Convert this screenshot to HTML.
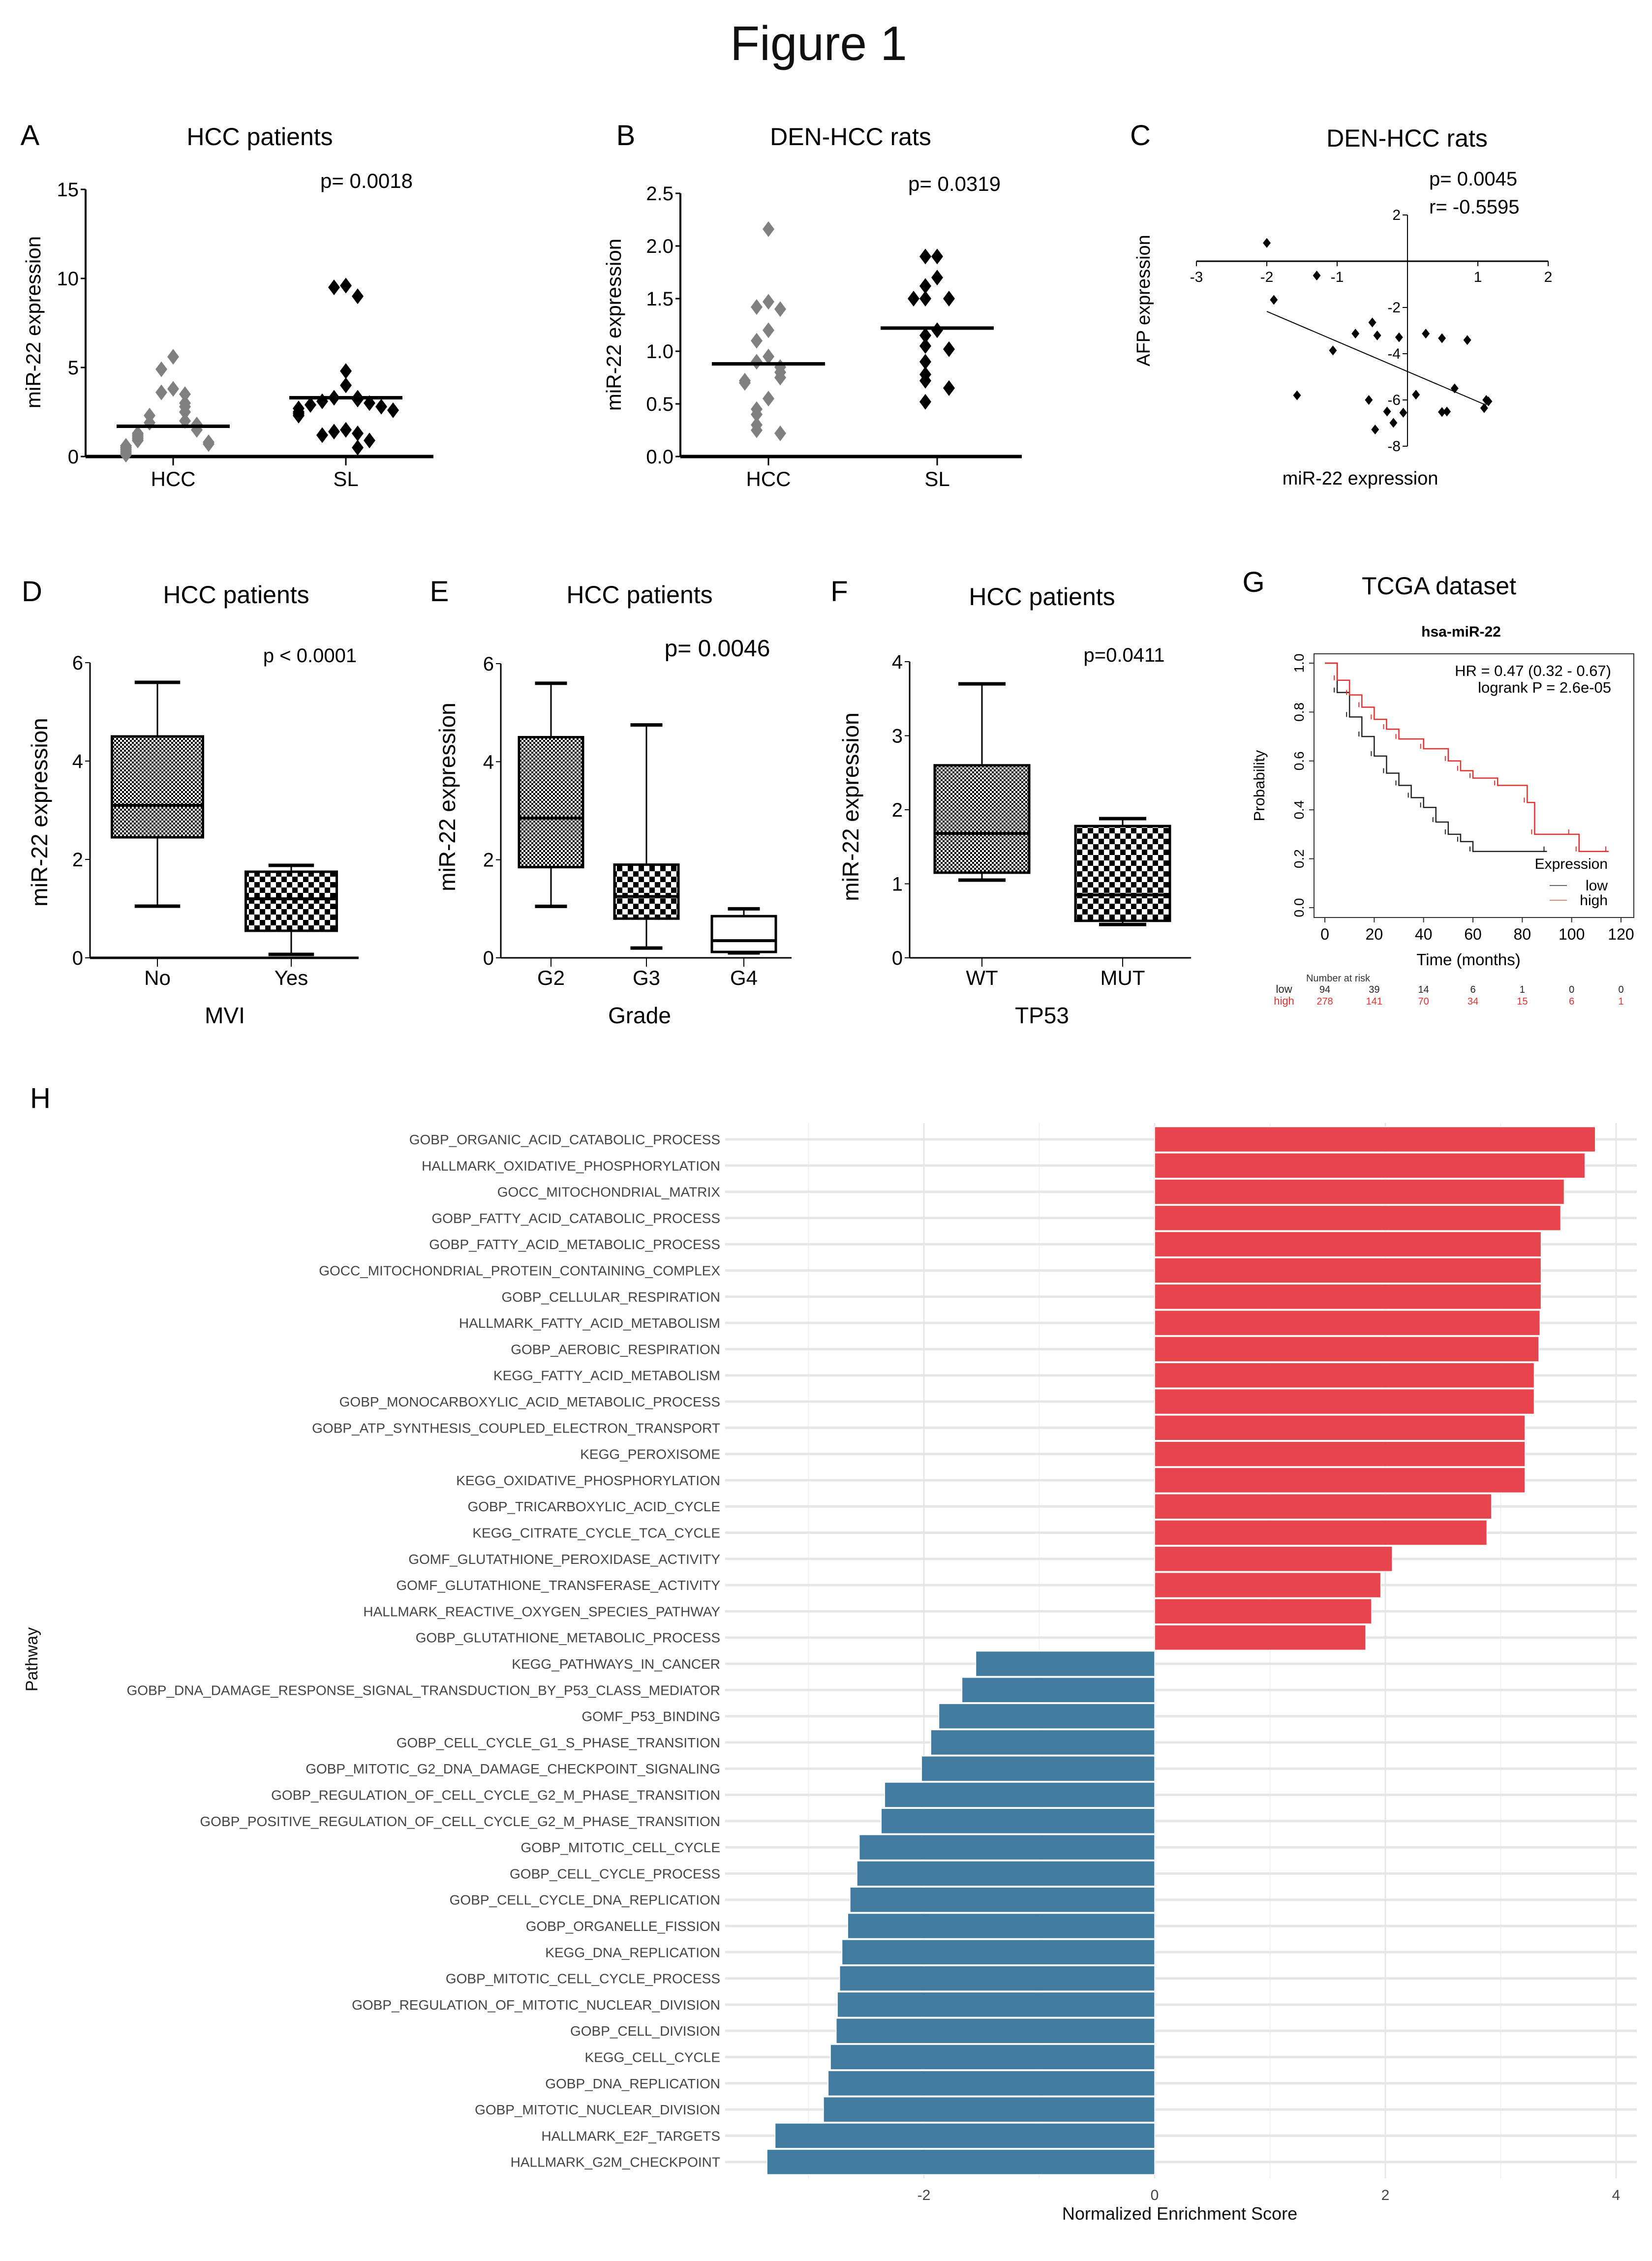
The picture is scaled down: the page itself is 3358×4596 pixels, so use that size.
<!DOCTYPE html>
<html><head><meta charset="utf-8"><style>
html,body{margin:0;padding:0;background:#fff;}
svg{display:block;font-family:"Liberation Sans",sans-serif;}
</style></head><body>
<svg id="fig" width="3358" height="4596" viewBox="0 0 3358 4596" xmlns="http://www.w3.org/2000/svg">
<rect x="0" y="0" width="3358" height="4596" fill="#fff"/>
<text x="1664" y="122" font-size="98" text-anchor="middle" fill="#111">Figure 1</text>

<!-- Panel A -->
<text x="61" y="295" font-size="58" text-anchor="middle">A</text>
<text x="528" y="295" font-size="50" text-anchor="middle">HCC patients</text>
<text x="745" y="382" font-size="42" text-anchor="middle">p= 0.0018</text>
<text transform="translate(82,655) rotate(-90)" font-size="42" text-anchor="middle">miR-22 expression</text>
<!-- Panel B -->
<text x="1272" y="295" font-size="58" text-anchor="middle">B</text>
<text x="1729" y="295" font-size="50" text-anchor="middle">DEN-HCC rats</text>
<text x="1940" y="388" font-size="42" text-anchor="middle">p= 0.0319</text>
<text transform="translate(1262,660) rotate(-90)" font-size="42" text-anchor="middle">miR-22 expression</text>
<!-- Panel C -->
<text x="2318" y="295" font-size="58" text-anchor="middle">C</text>
<text x="2860" y="298" font-size="50" text-anchor="middle">DEN-HCC rats</text>
<text x="2905" y="377" font-size="40">p=  0.0045</text>
<text x="2905" y="434" font-size="40">r=  -0.5595</text>
<text x="2765" y="985" font-size="38" text-anchor="middle">miR-22 expression</text>
<text transform="translate(2337,611) rotate(-90)" font-size="38" text-anchor="middle">AFP expression</text>

<!-- Panel D/E/F -->
<text x="65" y="1222" font-size="58" text-anchor="middle">D</text>
<text x="480" y="1226" font-size="50" text-anchor="middle">HCC patients</text>
<text x="630" y="1346" font-size="40" text-anchor="middle">p &lt; 0.0001</text>
<text x="457" y="2080" font-size="46" text-anchor="middle">MVI</text>
<text transform="translate(96,1651) rotate(-90)" font-size="46" text-anchor="middle">miR-22 expression</text>

<text x="893" y="1222" font-size="58" text-anchor="middle">E</text>
<text x="1300" y="1226" font-size="50" text-anchor="middle">HCC patients</text>
<text x="1458" y="1334" font-size="48" text-anchor="middle">p= 0.0046</text>
<text x="1300" y="2080" font-size="46" text-anchor="middle">Grade</text>
<text transform="translate(925,1620) rotate(-90)" font-size="46" text-anchor="middle">miR-22 expression</text>

<text x="1706" y="1222" font-size="58" text-anchor="middle">F</text>
<text x="2118" y="1230" font-size="50" text-anchor="middle">HCC patients</text>
<text x="2285" y="1345" font-size="40" text-anchor="middle">p=0.0411</text>
<text x="2118" y="2080" font-size="46" text-anchor="middle">TP53</text>
<text transform="translate(1745,1640) rotate(-90)" font-size="46" text-anchor="middle">miR-22 expression</text>

<!-- Panel G -->
<text x="2548" y="1203" font-size="58" text-anchor="middle">G</text>
<text x="2925" y="1208" font-size="50" text-anchor="middle">TCGA dataset</text>
<text x="2970" y="1294" font-size="30" font-weight="bold" text-anchor="middle">hsa-miR-22</text>
<text x="3275" y="1374" font-size="31" text-anchor="end">HR = 0.47 (0.32 - 0.67)</text>
<text x="3275" y="1408" font-size="31" text-anchor="end">logrank P = 2.6e-05</text>
<text x="3268" y="1766" font-size="30" text-anchor="end">Expression</text>
<line x1="3150" y1="1800" x2="3185" y2="1800" stroke="#666" stroke-width="2"/>
<text x="3268" y="1810" font-size="30" text-anchor="end">low</text>
<line x1="3150" y1="1830" x2="3185" y2="1830" stroke="#f08080" stroke-width="2"/>
<text x="3268" y="1840" font-size="30" text-anchor="end">high</text>
<text transform="translate(2570,1597) rotate(-90)" font-size="31" text-anchor="middle">Probability</text>
<text x="2985" y="1962" font-size="33" text-anchor="middle">Time (months)</text>
<text x="2720" y="1995" font-size="20" text-anchor="middle" fill="#333">Number at risk</text>
<text x="2610" y="2018" font-size="22" text-anchor="middle" fill="#222">low</text>
<text x="2610" y="2042" font-size="22" text-anchor="middle" fill="#e53030">high</text>

<!-- Panel H -->
<text x="82" y="2252" font-size="58" text-anchor="middle">H</text>
<text x="2398" y="4512" font-size="36" text-anchor="middle" fill="#111">Normalized Enrichment Score</text>
<text transform="translate(76,3373) rotate(-90)" font-size="34" text-anchor="middle" fill="#111">Pathway</text>
<g id="gH"></g><g id="gA"></g><g id="gB"></g><g id="gC"></g><g id="gD"></g><g id="gG"></g>
</svg>
<script>
// ===== Data =====
const aCats=['HCC','SL'];
const aHCC=[5.6,4.9,3.8,3.6,3.5,3.0,2.8,2.5,2.3,2.0,1.9,1.8,1.7,1.5,1.3,1.2,1.1,1.0,0.9,0.8,0.7,0.6,0.5,0.4,0.3,0.2,0.1];
const aSL=[9.6,9.5,9.0,4.8,4.0,3.3,3.3,3.2,3.1,3.0,2.9,2.8,2.7,2.6,2.5,2.4,2.3,1.5,1.4,1.3,1.2,0.9,0.5];
const aMeans=[1.7,3.3];
const aTicks=[0,5,10,15];
const bCats=['HCC','SL'];
const bHCC=[2.16,1.47,1.42,1.40,1.20,1.10,0.95,0.90,0.85,0.80,0.75,0.72,0.70,0.55,0.45,0.40,0.30,0.25,0.22];
const bSL=[1.9,1.9,1.7,1.62,1.5,1.5,1.5,1.2,1.15,1.05,1.02,0.9,0.78,0.72,0.65,0.52];
const bMeans=[0.88,1.22];
const bTicks=[0.0,0.5,1.0,1.5,2.0,2.5];
const cX=[-2.0,-1.29,-1.9,-0.5,-0.74,-0.43,-0.12,0.26,0.49,0.85,-1.06,0.67,0.12,-1.57,-0.55,1.12,1.15,1.09,-0.29,-0.06,0.49,0.56,-0.2,-0.46];
const cY=[0.79,-0.62,-1.67,-2.65,-3.13,-3.21,-3.29,-3.13,-3.33,-3.41,-3.86,-5.5,-5.77,-5.8,-6.0,-6.0,-6.06,-6.35,-6.5,-6.55,-6.52,-6.5,-6.99,-7.28];
const cFit=[-1.3,-4.77]; // slope, intercept
const cFitRange=[-2.0,1.12];
const cXTicks=[-3,-2,-1,1,2];
const cYTicks=[2,-2,-4,-6,-8];
const dCats=['No','Yes'];
const dStats=[[1.05,2.45,3.1,4.5,5.6],[0.07,0.55,1.2,1.75,1.88]];
const dTicks=[0,2,4,6];
const eCats=['G2','G3','G4'];
const eStats=[[1.05,1.85,2.85,4.5,5.6],[0.2,0.8,1.25,1.9,4.75],[0.1,0.12,0.35,0.85,1.0]];
const eTicks=[0,2,4,6];
const fCats=['WT','MUT'];
const fStats=[[1.05,1.15,1.68,2.6,3.7],[0.45,0.5,0.85,1.78,1.88]];
const fTicks=[0,1,2,3,4];
const kmLowT=[0,5,10,15,20,25,30,35,40,45,50,55,60,90];
const kmLowS=[1,0.88,0.78,0.7,0.62,0.55,0.5,0.45,0.41,0.35,0.3,0.27,0.23,0.23];
const kmHighT=[0,5,10,15,20,25,30,40,50,55,60,70,82,85,100,103,115];
const kmHighS=[1,0.93,0.87,0.82,0.77,0.73,0.69,0.65,0.6,0.56,0.53,0.5,0.43,0.3,0.3,0.23,0.23];
const kmXTicks=[0,20,40,60,80,100,120];
const kmYTicks=[0.0,0.2,0.4,0.6,0.8,1.0];
const riskLow=[94,39,14,6,1,0,0];
const riskHigh=[278,141,70,34,15,6,1];
const hLabels=['GOBP_ORGANIC_ACID_CATABOLIC_PROCESS','HALLMARK_OXIDATIVE_PHOSPHORYLATION','GOCC_MITOCHONDRIAL_MATRIX','GOBP_FATTY_ACID_CATABOLIC_PROCESS','GOBP_FATTY_ACID_METABOLIC_PROCESS','GOCC_MITOCHONDRIAL_PROTEIN_CONTAINING_COMPLEX','GOBP_CELLULAR_RESPIRATION','HALLMARK_FATTY_ACID_METABOLISM','GOBP_AEROBIC_RESPIRATION','KEGG_FATTY_ACID_METABOLISM','GOBP_MONOCARBOXYLIC_ACID_METABOLIC_PROCESS','GOBP_ATP_SYNTHESIS_COUPLED_ELECTRON_TRANSPORT','KEGG_PEROXISOME','KEGG_OXIDATIVE_PHOSPHORYLATION','GOBP_TRICARBOXYLIC_ACID_CYCLE','KEGG_CITRATE_CYCLE_TCA_CYCLE','GOMF_GLUTATHIONE_PEROXIDASE_ACTIVITY','GOMF_GLUTATHIONE_TRANSFERASE_ACTIVITY','HALLMARK_REACTIVE_OXYGEN_SPECIES_PATHWAY','GOBP_GLUTATHIONE_METABOLIC_PROCESS','KEGG_PATHWAYS_IN_CANCER','GOBP_DNA_DAMAGE_RESPONSE_SIGNAL_TRANSDUCTION_BY_P53_CLASS_MEDIATOR','GOMF_P53_BINDING','GOBP_CELL_CYCLE_G1_S_PHASE_TRANSITION','GOBP_MITOTIC_G2_DNA_DAMAGE_CHECKPOINT_SIGNALING','GOBP_REGULATION_OF_CELL_CYCLE_G2_M_PHASE_TRANSITION','GOBP_POSITIVE_REGULATION_OF_CELL_CYCLE_G2_M_PHASE_TRANSITION','GOBP_MITOTIC_CELL_CYCLE','GOBP_CELL_CYCLE_PROCESS','GOBP_CELL_CYCLE_DNA_REPLICATION','GOBP_ORGANELLE_FISSION','KEGG_DNA_REPLICATION','GOBP_MITOTIC_CELL_CYCLE_PROCESS','GOBP_REGULATION_OF_MITOTIC_NUCLEAR_DIVISION','GOBP_CELL_DIVISION','KEGG_CELL_CYCLE','GOBP_DNA_REPLICATION','GOBP_MITOTIC_NUCLEAR_DIVISION','HALLMARK_E2F_TARGETS','HALLMARK_G2M_CHECKPOINT'];
const hNES=[3.82,3.73,3.55,3.52,3.35,3.35,3.35,3.34,3.33,3.29,3.29,3.21,3.21,3.21,2.92,2.88,2.06,1.96,1.88,1.83,-1.55,-1.67,-1.87,-1.94,-2.02,-2.34,-2.37,-2.56,-2.58,-2.64,-2.66,-2.71,-2.73,-2.75,-2.76,-2.81,-2.83,-2.87,-3.29,-3.36];
const hTicks=[-2,0,2,4];
const hMinor=[-3,-1,1,3];

// ===== helpers =====
const NS='http://www.w3.org/2000/svg';
function mk(tag,attrs,parent){const e=document.createElementNS(NS,tag);for(const k in attrs)e.setAttribute(k,attrs[k]);parent.appendChild(e);return e;}
function lin(d0,d1,r0,r1){return v=>r0+(v-d0)*(r1-r0)/(d1-d0);}
function diamond(cx,cy,w,h){return `${cx},${cy-h} ${cx+w},${cy} ${cx},${cy+h} ${cx-w},${cy}`;}

// ===== Patterns =====
const defs=mk('defs',{},document.getElementById('fig'));
const p1=mk('pattern',{id:'fine',width:'8',height:'8',patternUnits:'userSpaceOnUse'},defs);
mk('rect',{width:8,height:8,fill:'#fff'},p1);mk('rect',{width:4,height:4,fill:'#000'},p1);mk('rect',{x:4,y:4,width:4,height:4,fill:'#000'},p1);
const p2=mk('pattern',{id:'coarse',width:'22',height:'22',patternUnits:'userSpaceOnUse'},defs);
mk('rect',{width:22,height:22,fill:'#fff'},p2);mk('rect',{width:11,height:11,fill:'#000'},p2);mk('rect',{x:11,y:11,width:11,height:11,fill:'#000'},p2);

// ===== Dot plots A & B =====
function dotPlot(g,opt){
  const y=lin(0,opt.max,opt.y0,opt.yTop);
  const ax=mk('line',{x1:opt.x0,y1:opt.yTop,x2:opt.x0,y2:opt.y0,stroke:'#000','stroke-width':4},g);
  
  
  const bx=mk('line',{x1:opt.x0,y1:opt.y0,x2:opt.x1,y2:opt.y0,stroke:'#000','stroke-width':7},g);
  
  
  opt.ticks.forEach(t=>{
    const tl=mk('line',{x1:opt.x0-10,y1:y(t),x2:opt.x0,y2:y(t),stroke:'#000','stroke-width':3},g);
    
    
    const tt=mk('text',{x:opt.x0-14,y:y(t)+14,'font-size':40,'text-anchor':'end'},g);
    tt.textContent=opt.fmt(t);
    
    
  });
  opt.groups.forEach((vals,gi)=>{
    const cx=opt.cx[gi];
    const tk=mk('line',{x1:cx,y1:opt.y0,x2:cx,y2:opt.y0+18,stroke:'#000','stroke-width':3},g);
    
    
    const lb=mk('text',{x:cx,y:opt.y0+60,'font-size':42,'text-anchor':'middle'},g);
    lb.textContent=opt.cats[gi];
    
    
    const placed=[];
    vals.forEach(v=>{
      const py=y(v);
      const near=placed.filter(p=>Math.abs(p-py)<28).length;
      placed.push(py);
      const off=(near%2===0?1:-1)*Math.ceil(near/2)*24;
      const d=mk('polygon',{points:diamond(cx+off,py,12,16),fill:opt.colors[gi]},g);
      
      
    });
    const m=mk('line',{x1:cx-115,y1:y(opt.means[gi]),x2:cx+115,y2:y(opt.means[gi]),stroke:'#000','stroke-width':7},g);
    
    
  });
}
dotPlot(document.getElementById('gA'),{x0:174,x1:881,y0:928,yTop:385,max:15,ticks:aTicks,fmt:t=>String(t),cx:[352,703],cats:aCats,groups:[aHCC,aSL],means:aMeans,colors:['#808080','#000']});
dotPlot(document.getElementById('gB'),{x0:1383,x1:2077,y0:928,yTop:393,max:2.5,ticks:bTicks,fmt:t=>t.toFixed(1),cx:[1562,1905],cats:bCats,groups:[bHCC,bSL],means:bMeans,colors:['#808080','#000']});

// ===== Scatter C =====
(function(){
  const g=document.getElementById('gC');
  const x=lin(-3,2,2432,3147), y=lin(0,2,531,437);
  const xa=mk('line',{x1:x(-3),y1:y(0),x2:x(2),y2:y(0),stroke:'#000','stroke-width':3},g);
  
  
  const ya=mk('line',{x1:x(0),y1:y(2),x2:x(0),y2:y(-8),stroke:'#000','stroke-width':2},g);
  
  
  cXTicks.forEach(t=>{
    const l=mk('line',{x1:x(t),y1:y(0),x2:x(t),y2:y(0)+10,stroke:'#000','stroke-width':2},g);
    
    
    const tx=mk('text',{x:x(t),y:y(0)+42,'font-size':30,'text-anchor':'middle'},g);
    tx.textContent=String(t);
    
    
  });
  cYTicks.forEach(t=>{
    const l=mk('line',{x1:x(0)-10,y1:y(t),x2:x(0),y2:y(t),stroke:'#000','stroke-width':2},g);
    
    
    const tx=mk('text',{x:x(0)-14,y:y(t)+10,'font-size':30,'text-anchor':'end'},g);
    tx.textContent=String(t);
    
    
  });
  const fl=mk('line',{x1:x(cFitRange[0]),y1:y(cFit[0]*cFitRange[0]+cFit[1]),x2:x(cFitRange[1]),y2:y(cFit[0]*cFitRange[1]+cFit[1]),stroke:'#000','stroke-width':2},g);
  
  
  cX.forEach((v,i)=>{
    const d=mk('polygon',{points:diamond(x(v),y(cY[i]),8,10),fill:'#000'},g);
    
    
  });
})();

// ===== Box plots D,E,F =====
function boxPlot(g,opt){
  const y=lin(0,opt.max,opt.y0,opt.yTop);
  const ax=mk('line',{x1:opt.x0,y1:opt.yTop,x2:opt.x0,y2:opt.y0,stroke:'#000','stroke-width':3},g);
  
  
  const bx=mk('line',{x1:opt.x0,y1:opt.y0,x2:opt.x1,y2:opt.y0,stroke:'#000','stroke-width':opt.xw},g);
  
  
  opt.ticks.forEach(t=>{
    const tl=mk('line',{x1:opt.x0-10,y1:y(t),x2:opt.x0,y2:y(t),stroke:'#000','stroke-width':2},g);
    
    
    const tt=mk('text',{x:opt.x0-14,y:y(t)+14,'font-size':40,'text-anchor':'end'},g);
    tt.textContent=String(t);
    
    
  });
  opt.stats.forEach((s,i)=>{
    const cx=opt.cx[i], w=opt.w;
    const tk=mk('line',{x1:cx,y1:opt.y0,x2:cx,y2:opt.y0+18,stroke:'#000','stroke-width':2},g);
    
    
    const lb=mk('text',{x:cx,y:opt.y0+55,'font-size':42,'text-anchor':'middle'},g);
    lb.textContent=opt.cats[i];
    
    
    const wl=mk('line',{x1:cx,y1:y(s[0]),x2:cx,y2:y(s[4]),stroke:'#000','stroke-width':3},g);
    
    
    [s[0],s[4]].forEach(v=>{
      const c=mk('line',{x1:cx-w*0.25,y1:y(v),x2:cx+w*0.25,y2:y(v),stroke:'#000','stroke-width':7},g);
      
      
    });
    const b=mk('rect',{x:cx-w/2,y:y(s[3]),width:w,height:y(s[1])-y(s[3]),fill:opt.fills[i],stroke:'#000','stroke-width':5},g);
    
    
    const m=mk('line',{x1:cx-w/2,y1:y(s[2]),x2:cx+w/2,y2:y(s[2]),stroke:'#000','stroke-width':6},g);
    
    
  });
}
const gD=document.getElementById('gD');
boxPlot(gD,{x0:183,x1:729,y0:1947,yTop:1347,max:6,ticks:dTicks,cx:[320,592],w:185,cats:dCats,stats:dStats,fills:['url(#fine)','url(#coarse)'],xw:5});
boxPlot(gD,{x0:1018,x1:1609,y0:1947,yTop:1349,max:6,ticks:eTicks,cx:[1120,1314,1512],w:130,cats:eCats,stats:eStats,fills:['url(#fine)','url(#coarse)','#fff'],xw:3});
boxPlot(gD,{x0:1849,x1:2421,y0:1947,yTop:1345,max:4,ticks:fTicks,cx:[1996,2282],w:192,cats:fCats,stats:fStats,fills:['url(#fine)','url(#coarse)'],xw:3});

// ===== KM G =====
(function(){
  const g=document.getElementById('gG');
  const x=lin(0,120,2693,3295), y=lin(0,1,1845,1348);
  const fr=mk('rect',{x:2671,y:1329,width:650,height:536,fill:'none',stroke:'#333','stroke-width':2},g);
  
  
  kmXTicks.forEach((t,i)=>{
    const l=mk('line',{x1:x(t),y1:1865,x2:x(t),y2:1875,stroke:'#333','stroke-width':2},g);
    
    
    const tx=mk('text',{x:x(t),y:1910,'font-size':32,'text-anchor':'middle'},g);
    tx.textContent=String(t);
    
    
    const rl=mk('text',{x:x(t),y:2018,'font-size':20,'text-anchor':'middle',fill:'#222'},g);
    rl.textContent=String(riskLow[i]);
    
    
    const rh=mk('text',{x:x(t),y:2042,'font-size':20,'text-anchor':'middle',fill:'#e53030'},g);
    rh.textContent=String(riskHigh[i]);
    
    
  });
  kmYTicks.forEach(t=>{
    const l=mk('line',{x1:2661,y1:y(t),x2:2671,y2:y(t),stroke:'#333','stroke-width':2},g);
    
    
    const tx=mk('text',{transform:`translate(2650,${y(t)}) rotate(-90)`,'font-size':28,'text-anchor':'middle'},g);
    tx.textContent=t.toFixed(1);
    
    
  });
  function step(T,S,color,name){
    let d=`M${x(T[0])},${y(S[0])}`;
    for(let i=1;i<T.length;i++){d+=` H${x(T[i])} V${y(S[i])}`;}
    const p=mk('path',{d:d,fill:'none',stroke:color,'stroke-width':2.5},g);
    
    
    for(let i=1;i<T.length;i++){
      const c=mk('line',{x1:x(T[i])-6,y1:y(S[i]),x2:x(T[i])-6,y2:y(S[i])-10,stroke:color,'stroke-width':2},g);
      
      
    }
  }
  step(kmLowT,kmLowS,'#222','km-low-curve');
  step(kmHighT,kmHighS,'#e53030','km-high-curve');
})();

// ===== Panel H =====
(function(){
  const g=document.getElementById('gH');
  const x=v=>2347+v*234.5;
  const rowY=i=>2316+i*53.3;
  const top=2283,bot=4428;
  hMinor.forEach(t=>{
    const l=mk('line',{x1:x(t),y1:top,x2:x(t),y2:bot,stroke:'#f0f0f0','stroke-width':2},g);
    
    
  });
  hTicks.forEach(t=>{
    const l=mk('line',{x1:x(t),y1:top,x2:x(t),y2:bot,stroke:'#e6e6e6','stroke-width':3},g);
    
    
    const tx=mk('text',{x:x(t),y:4472,'font-size':30,'text-anchor':'middle',fill:'#444'},g);
    tx.textContent=String(t);
    
    
  });
  hLabels.forEach((lab,i)=>{
    const gl=mk('line',{x1:1474,y1:rowY(i),x2:3327,y2:rowY(i),stroke:'#e8e6e4','stroke-width':5},g);
    
    
  });
  hNES.forEach((v,i)=>{
    const x0=x(Math.min(0,v)), w=Math.abs(x(v)-x(0));
    const r=mk('rect',{x:x0,y:rowY(i)-25.5,width:w,height:51,fill:v>0?'#e8444b':'#427ba0',stroke:'#fff','stroke-width':1.5},g);
    
    
  });
  hLabels.forEach((lab,i)=>{
    const t=mk('text',{x:1464,y:rowY(i)+10,'font-size':28,'text-anchor':'end',fill:'#444'},g);
    t.textContent=lab;
    
    
  });
})();
</script>
</body></html>
